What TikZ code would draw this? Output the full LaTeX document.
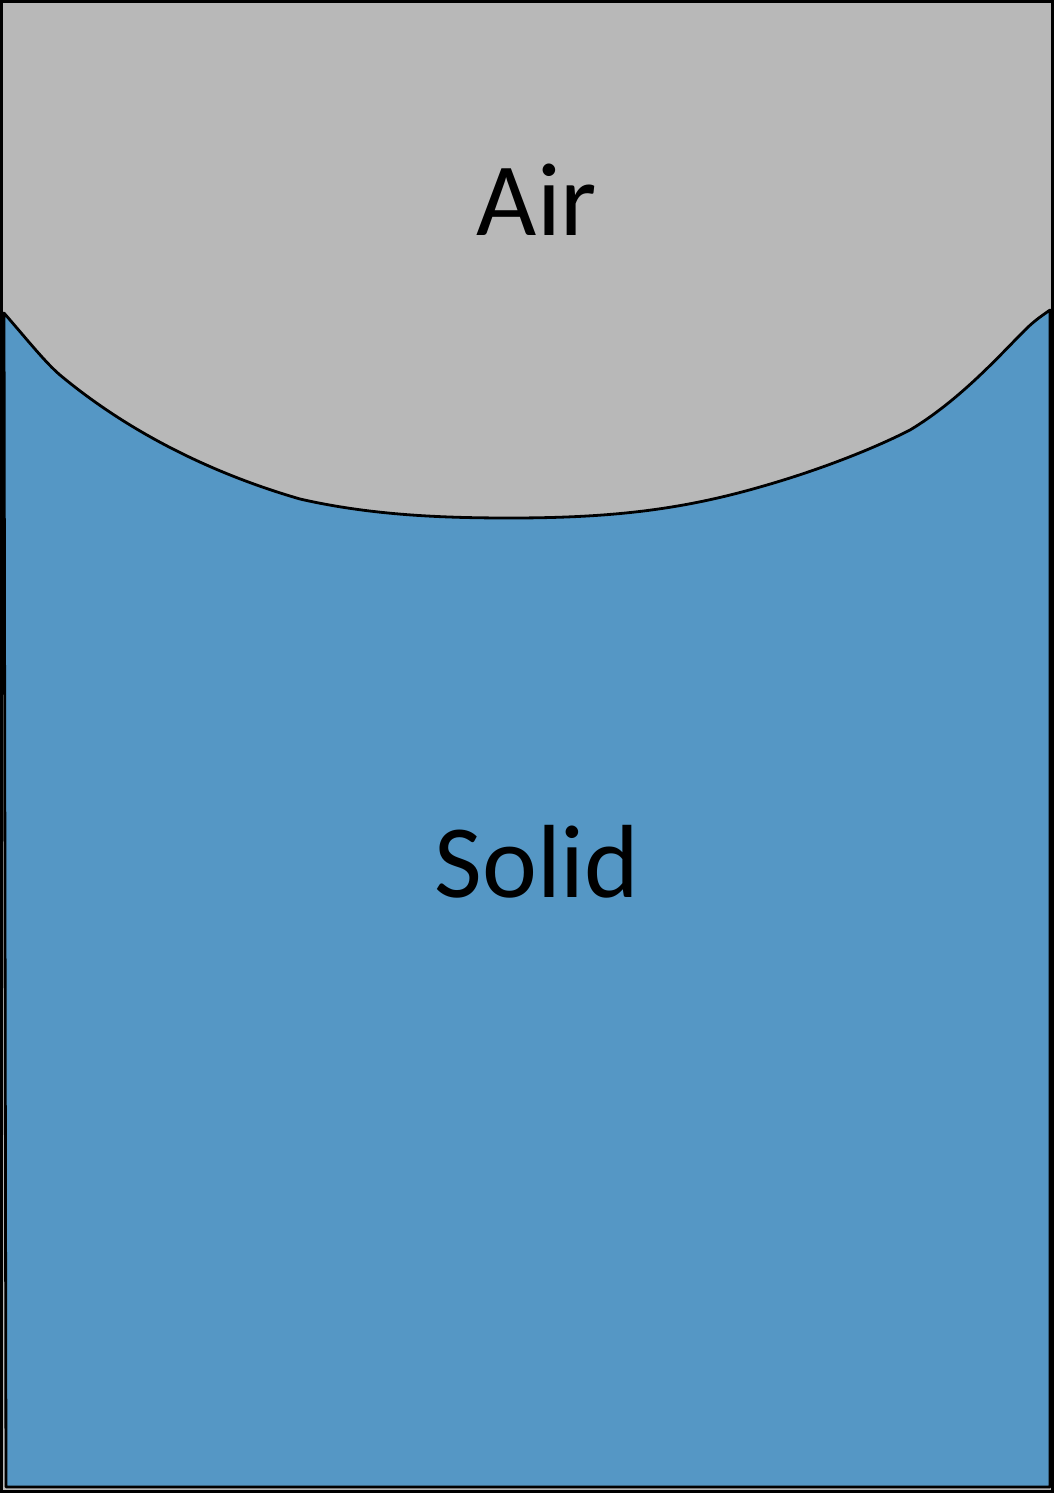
\documentclass[tikz,border=0pt]{standalone}
\usepackage{fontspec}
\setmainfont{Carlito}
\definecolor{airgray}{HTML}{B8B8B8}
\definecolor{solidblue}{HTML}{5597C5}
\begin{document}
\begin{tikzpicture}[x=1pt,y=-1pt,
  lbl/.style={font=\fontsize{104}{124}\selectfont, text=black, inner sep=0pt}]
\useasboundingbox (0,0) rectangle (1054,1493);
\fill[airgray] (0,0) rectangle (1054,1493);
\draw[black, line width=3pt] (1.5,1.5) rectangle (1052.5,1491.5);
\draw[black, line width=2.8pt, fill=solidblue, line join=round]
  (4,313)
  .. controls (30,343) and (45,362) .. (60,375)
  .. controls (120,425) and (200,470) .. (300,499)
  .. controls (370,515) and (440,518) .. (510,518)
  .. controls (610,518) and (680,510) .. (760,487)
  .. controls (820,470) and (875,448) .. (910,430)
  .. controls (960,400) and (1000,355) .. (1025,330)
  .. controls (1035,320) and (1043,315) .. (1050,310)
  -- (1050,1487) -- (6,1487) -- cycle;
\node[lbl] (air) at (537,200) {Air};
\node[lbl] (solid) at (537,862) {Solid};
\end{tikzpicture}
\end{document}
